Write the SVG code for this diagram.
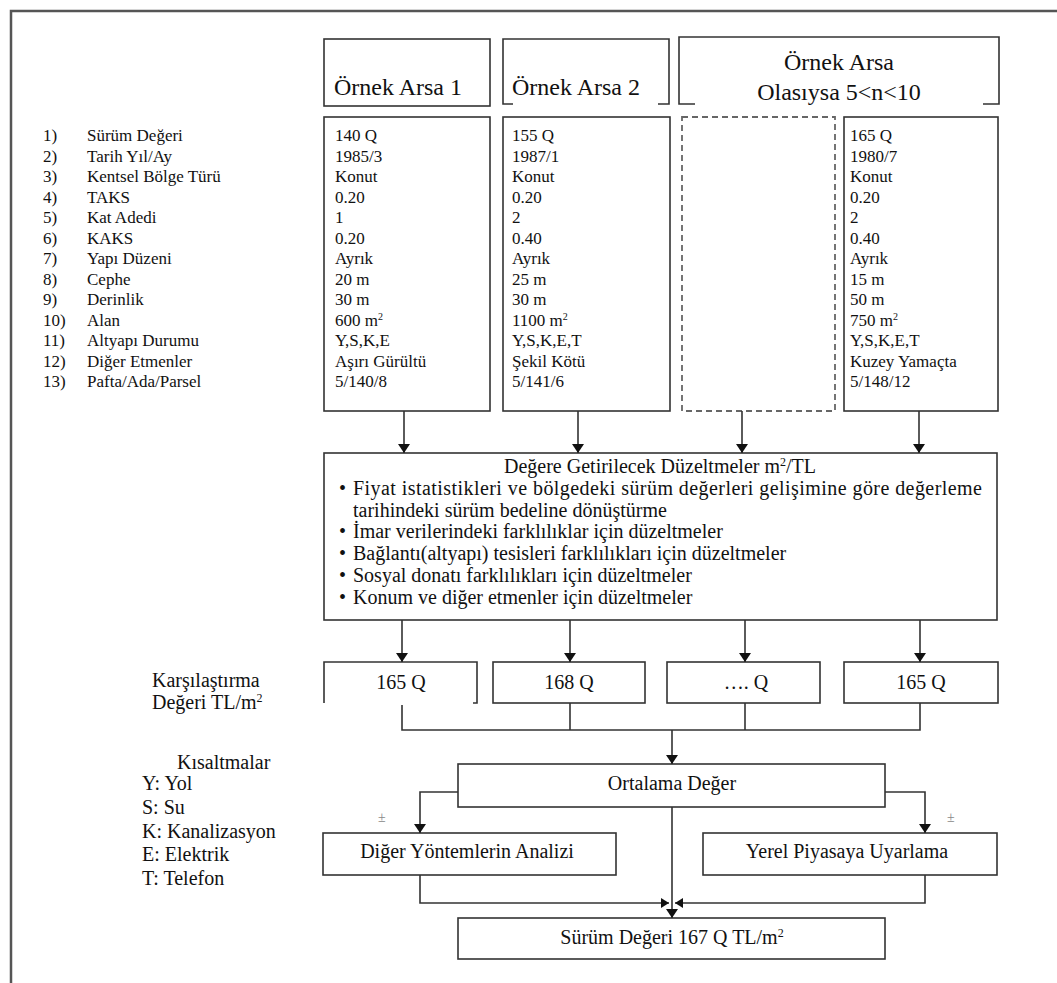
<svg xmlns="http://www.w3.org/2000/svg" width="1057" height="983" viewBox="0 0 1057 983" font-family="'Liberation Serif', Tinos, 'Times New Roman', 'DejaVu Serif', 'Noto Serif', serif">
<style>
text{font-family:'Liberation Serif',Tinos,'Times New Roman','DejaVu Serif','Noto Serif',serif;fill:#111}
.h{font-size:24px}
.d{font-size:17px}
.m{font-size:20px}
.box{fill:#fff;stroke:#333;stroke-width:1.6}
.open{fill:none;stroke:#333;stroke-width:1.6}
.dash{fill:#fff;stroke:#666;stroke-width:1.8;stroke-dasharray:6 4}
.c{fill:none;stroke:#333;stroke-width:1.6}
.pm{fill:#888;font-size:14px}
.mid{text-anchor:middle}
</style>
<defs>
<marker id="ah" viewBox="0 0 9 12" refX="9" refY="6" markerWidth="9" markerHeight="12" markerUnits="userSpaceOnUse" orient="auto">
<path d="M0,0 L9,6 L0,12 z" fill="#111"/>
</marker>
<marker id="ahs" viewBox="0 0 8 10" refX="8" refY="5" markerWidth="8" markerHeight="10" markerUnits="userSpaceOnUse" orient="auto">
<path d="M0,0 L8,5 L0,10 z" fill="#111"/>
</marker>
</defs>
<rect width="1057" height="983" fill="#fff"/>
<path d="M11,983 V11 H1057" fill="none" stroke="#555" stroke-width="2.5"/>

<g id="hdr1">
<rect class="box" x="324" y="39" width="166" height="67"/>
<text class="h" x="334" y="95">Örnek Arsa 1</text>
</g>
<g id="hdr2">
<path class="open" d="M513,104 H503 V39 H669 V104 H658"/>
<text class="h" x="512" y="95">Örnek Arsa 2</text>
</g>
<g id="hdr3">
<path class="open" d="M695,104 H679 V37 H999 V104 H983"/>
<text class="h mid" x="839" y="70">Örnek Arsa</text>
<text class="h mid" x="839" y="100">Olasıysa 5&lt;n&lt;10</text>
</g>

<g id="legend-list">
<text class="d" x="43" y="141"><tspan x="43">1)</tspan><tspan x="43" dy="20.5">2)</tspan><tspan x="43" dy="20.5">3)</tspan><tspan x="43" dy="20.5">4)</tspan><tspan x="43" dy="20.5">5)</tspan><tspan x="43" dy="20.5">6)</tspan><tspan x="43" dy="20.5">7)</tspan><tspan x="43" dy="20.5">8)</tspan><tspan x="43" dy="20.5">9)</tspan><tspan x="43" dy="20.5">10)</tspan><tspan x="43" dy="20.5">11)</tspan><tspan x="43" dy="20.5">12)</tspan><tspan x="43" dy="20.5">13)</tspan></text>
<text class="d" x="87" y="141"><tspan x="87">Sürüm Değeri</tspan><tspan x="87" dy="20.5">Tarih Yıl/Ay</tspan><tspan x="87" dy="20.5">Kentsel Bölge Türü</tspan><tspan x="87" dy="20.5">TAKS</tspan><tspan x="87" dy="20.5">Kat Adedi</tspan><tspan x="87" dy="20.5">KAKS</tspan><tspan x="87" dy="20.5">Yapı Düzeni</tspan><tspan x="87" dy="20.5">Cephe</tspan><tspan x="87" dy="20.5">Derinlik</tspan><tspan x="87" dy="20.5">Alan</tspan><tspan x="87" dy="20.5">Altyapı Durumu</tspan><tspan x="87" dy="20.5">Diğer Etmenler</tspan><tspan x="87" dy="20.5">Pafta/Ada/Parsel</tspan></text>
</g>

<g id="col1">
<rect class="box" x="324" y="117" width="166" height="294"/>
<text class="d" x="335" y="141"><tspan x="335">140 Q</tspan><tspan x="335" dy="20.5">1985/3</tspan><tspan x="335" dy="20.5">Konut</tspan><tspan x="335" dy="20.5">0.20</tspan><tspan x="335" dy="20.5">1</tspan><tspan x="335" dy="20.5">0.20</tspan><tspan x="335" dy="20.5">Ayrık</tspan><tspan x="335" dy="20.5">20 m</tspan><tspan x="335" dy="20.5">30 m</tspan><tspan x="335" dy="20.5">600 m<tspan font-size="10" dy="-6">2</tspan></tspan><tspan x="335" dy="26.5">Y,S,K,E</tspan><tspan x="335" dy="20.5">Aşırı Gürültü</tspan><tspan x="335" dy="20.5">5/140/8</tspan></text>
</g>
<g id="col2">
<rect class="box" x="503" y="117" width="167" height="294"/>
<text class="d" x="512" y="141"><tspan x="512">155 Q</tspan><tspan x="512" dy="20.5">1987/1</tspan><tspan x="512" dy="20.5">Konut</tspan><tspan x="512" dy="20.5">0.20</tspan><tspan x="512" dy="20.5">2</tspan><tspan x="512" dy="20.5">0.40</tspan><tspan x="512" dy="20.5">Ayrık</tspan><tspan x="512" dy="20.5">25 m</tspan><tspan x="512" dy="20.5">30 m</tspan><tspan x="512" dy="20.5">1100 m<tspan font-size="10" dy="-6">2</tspan></tspan><tspan x="512" dy="26.5">Y,S,K,E,T</tspan><tspan x="512" dy="20.5">Şekil Kötü</tspan><tspan x="512" dy="20.5">5/141/6</tspan></text>
</g>
<g id="col3">
<rect class="dash" x="682" y="117" width="153" height="294"/>
</g>
<g id="col4">
<rect class="box" x="844" y="117" width="154" height="294"/>
<text class="d" x="850" y="141"><tspan x="850">165 Q</tspan><tspan x="850" dy="20.5">1980/7</tspan><tspan x="850" dy="20.5">Konut</tspan><tspan x="850" dy="20.5">0.20</tspan><tspan x="850" dy="20.5">2</tspan><tspan x="850" dy="20.5">0.40</tspan><tspan x="850" dy="20.5">Ayrık</tspan><tspan x="850" dy="20.5">15 m</tspan><tspan x="850" dy="20.5">50 m</tspan><tspan x="850" dy="20.5">750 m<tspan font-size="10" dy="-6">2</tspan></tspan><tspan x="850" dy="26.5">Y,S,K,E,T</tspan><tspan x="850" dy="20.5">Kuzey Yamaçta</tspan><tspan x="850" dy="20.5">5/148/12</tspan></text>
</g>

<g id="adjust">
<rect class="box" x="324" y="453" width="673" height="167"/>
<text class="m mid" x="660" y="473">Değere Getirilecek Düzeltmeler m<tspan font-size="12" dy="-7">2</tspan><tspan dy="7">/TL</tspan></text>
<text class="m" x="339" y="495">•</text>
<text class="m" x="353" y="495" textLength="629" lengthAdjust="spacing">Fiyat istatistikleri ve bölgedeki sürüm değerleri gelişimine göre değerleme</text>
<text class="m" x="353" y="517">tarihindeki sürüm bedeline dönüştürme</text>
<text class="m" x="339" y="538">•</text>
<text class="m" x="353" y="538">İmar verilerindeki farklılıklar için düzeltmeler</text>
<text class="m" x="339" y="560">•</text>
<text class="m" x="353" y="560">Bağlantı(altyapı) tesisleri farklılıkları için düzeltmeler</text>
<text class="m" x="339" y="582">•</text>
<text class="m" x="353" y="582">Sosyal donatı farklılıkları için düzeltmeler</text>
<text class="m" x="339" y="604">•</text>
<text class="m" x="353" y="604">Konum ve diğer etmenler için düzeltmeler</text>
</g>

<g id="cmp-label">
<text class="m" x="152" y="687">Karşılaştırma</text>
<text class="m" x="152" y="709">Değeri TL/m<tspan font-size="12" dy="-7">2</tspan></text>
</g>
<g id="q1">
<path class="open" d="M324,703 V662 H477 V703 H473"/>
<text class="m mid" x="401" y="689">165 Q</text>
</g>
<g id="q2">
<rect class="box" x="493" y="662" width="152" height="41"/>
<text class="m mid" x="569" y="689">168 Q</text>
</g>
<g id="q3">
<rect class="box" x="667" y="662" width="153" height="41"/>
<text class="m mid" x="746" y="689">…. Q</text>
</g>
<g id="q4">
<rect class="box" x="844" y="662" width="154" height="41"/>
<text class="m mid" x="921" y="689">165 Q</text>
</g>

<g id="abbr">
<text class="m" x="177" y="769">Kısaltmalar</text>
<text class="m" x="142" y="790">Y: Yol</text>
<text class="m" x="142" y="814">S: Su</text>
<text class="m" x="142" y="838">K: Kanalizasyon</text>
<text class="m" x="142" y="861">E: Elektrik</text>
<text class="m" x="142" y="885">T: Telefon</text>
</g>

<g id="avg">
<rect class="box" x="458" y="764" width="427" height="43"/>
<text class="m mid" x="672" y="790">Ortalama Değer</text>
</g>
<g id="other">
<rect class="box" x="323" y="833" width="293" height="42"/>
<text class="m mid" x="467" y="858">Diğer Yöntemlerin Analizi</text>
<text class="pm" x="378" y="822">±</text>
</g>
<g id="local">
<rect class="box" x="703" y="833" width="294" height="42"/>
<text class="m mid" x="847" y="858">Yerel Piyasaya Uyarlama</text>
<text class="pm" x="947" y="822">±</text>
</g>
<g id="result">
<rect class="box" x="458" y="918" width="427" height="41"/>
<text class="m mid" x="672" y="944">Sürüm Değeri 167 Q TL/m<tspan font-size="12" dy="-7">2</tspan></text>
</g>

<g id="connectors">
<path class="c" d="M404,411 V453" marker-end="url(#ah)"/>
<path class="c" d="M578,411 V453" marker-end="url(#ah)"/>
<path class="c" d="M742,411 V453" marker-end="url(#ah)"/>
<path class="c" d="M919,411 V453" marker-end="url(#ah)"/>
<path class="c" d="M402,620 V662" marker-end="url(#ah)"/>
<path class="c" d="M570,620 V662" marker-end="url(#ah)"/>
<path class="c" d="M745,620 V662" marker-end="url(#ah)"/>
<path class="c" d="M920,620 V662" marker-end="url(#ah)"/>
<path class="c" d="M402,705 V730 H920 V703"/>
<path class="c" d="M570,703 V730"/>
<path class="c" d="M745,703 V730"/>
<path class="c" d="M672,730 V764" marker-end="url(#ah)"/>
<path class="c" d="M458,792 H420 V833" marker-end="url(#ah)"/>
<path class="c" d="M885,792 H925 V833" marker-end="url(#ah)"/>
<path class="c" d="M672,807 V918" marker-end="url(#ah)"/>
<path class="c" d="M420,875 V903 H669" marker-end="url(#ahs)"/>
<path class="c" d="M925,875 V903 H675" marker-end="url(#ahs)"/>
</g>
</svg>
